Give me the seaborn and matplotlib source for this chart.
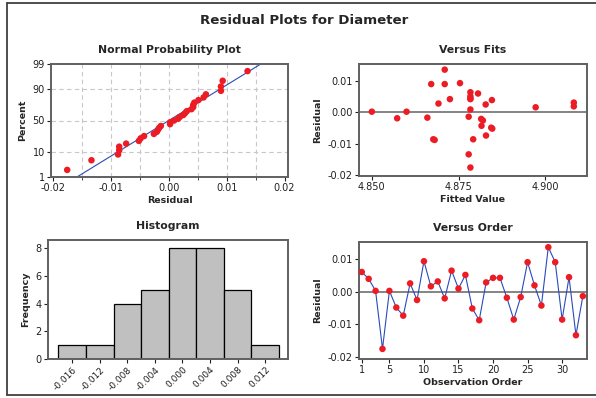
import matplotlib
matplotlib.use("Agg")
import matplotlib.pyplot as plt
import seaborn as sns
import numpy as np
from statistics import NormalDist
from matplotlib.lines import Line2D

# ── data ──
order = list(range(1, 34))
residuals = [0.0060, 0.0039, 0.0002, -0.0176, 0.0002, -0.0049, -0.0074, 0.0025,
             -0.0026, 0.0093, 0.0016, 0.0031, -0.0021, 0.0064, 0.0009, 0.0051,
             -0.0052, -0.0088, 0.0028, 0.0042, 0.0042, -0.0019, -0.0086, -0.0017,
             0.0090, 0.0019, -0.0043, 0.0136, 0.0090, -0.0086, 0.0044, -0.0134,
             -0.0014]
fitted = [4.8806, 4.8846, 4.8500, 4.8784, 4.8600, 4.8844, 4.8829, 4.8828,
          4.8820, 4.8754, 4.8972, 4.9082, 4.8815, 4.8784, 4.8784, 4.8784,
          4.8847, 4.8681, 4.8692, 4.8784, 4.8725, 4.8573, 4.8677, 4.8660,
          4.8671, 4.9082, 4.8816, 4.8710, 4.8710, 4.8792, 4.8784, 4.8779,
          4.8779]
hist_edges = [-0.018, -0.014, -0.010, -0.006, -0.002, 0.002, 0.006, 0.010, 0.014]
hist_ticks = [-0.016, -0.012, -0.008, -0.004, 0.000, 0.004, 0.008, 0.012]
pct_ticks = [1, 10, 50, 90, 99]

RED = "#ec1c24"
BLUE = "#2a4bb8"
SPINE = "#606060"

sns.set_style("ticks")
plt.rcParams["font.family"] = ["DejaVu Sans"]
plt.rcParams["xtick.labelsize"] = 7
plt.rcParams["ytick.labelsize"] = 7
plt.rcParams["xtick.major.size"] = 3
plt.rcParams["ytick.major.size"] = 3

W, H = 596, 398
fig = plt.figure(figsize=(W / 100, H / 100), dpi=100)


def box(l, t, r, b):
    return [l / W, 1 - b / H, (r - l) / W, (b - t) / H]


ax1 = fig.add_axes(box(51, 64, 288, 177))
ax2 = fig.add_axes(box(359, 64, 587, 176))
ax3 = fig.add_axes(box(48, 240, 288, 359))
ax4 = fig.add_axes(box(359, 242, 587, 359))

for ax in (ax1, ax2, ax3, ax4):
    for s in ax.spines.values():
        s.set_color(SPINE)
        s.set_linewidth(1.4)
    ax.tick_params(colors="#202020", width=0.8, pad=1.5)

lab = dict(fontsize=6.8, fontweight="bold")
ttl = dict(fontsize=7.8, fontweight="bold", pad=8)

# ── normal probability plot ──
nd = NormalDist()
res_sorted = np.sort(residuals)
n = len(res_sorted)
z = [nd.inv_cdf((i - 0.3) / (n + 0.4)) for i in range(1, n + 1)]
mu, sd = np.mean(residuals), np.std(residuals, ddof=1)
zl = np.array([-3.5, 3.5])
ax1.plot(mu + sd * zl, zl, color=BLUE, lw=0.8, zorder=2)
sns.scatterplot(x=res_sorted, y=z, color=RED, s=22, edgecolor="none", ax=ax1, zorder=3)
ax1.set_xlim(-0.0204, 0.0206)
ax1.set_ylim(nd.inv_cdf(0.01), nd.inv_cdf(0.99))
ax1.set_xticks([-0.02, -0.01, 0.0, 0.01, 0.02])
ax1.set_xticklabels(["-0.02", "-0.01", "0.00", "0.01", "0.02"])
ax1.set_xticks([-0.015, -0.005, 0.005, 0.015], minor=True)
ax1.tick_params(axis="x", which="minor", length=2)
ax1.set_yticks([nd.inv_cdf(p / 100) for p in pct_ticks])
ax1.set_yticklabels([str(p) for p in pct_ticks])
for xv in np.arange(-0.015, 0.0151, 0.005):
    ax1.axvline(xv, color="#c8c8c8", lw=0.8, ls=(0, (4, 3)), zorder=0)
for p in (10, 50, 90):
    ax1.axhline(nd.inv_cdf(p / 100), color="#c8c8c8", lw=0.8, ls=(0, (4, 3)), zorder=0)
ax1.set_xlabel("Residual", labelpad=2, **lab)
ax1.set_ylabel("Percent", labelpad=4, **lab)
ax1.set_title("Normal Probability Plot", **ttl)

# ── versus fits ──
ax2.axhline(0, color="#707070", lw=1.2, zorder=1)
sns.scatterplot(x=fitted, y=residuals, color=RED, s=22, edgecolor="none", ax=ax2, zorder=3)
ax2.set_xlim(4.8463, 4.9120)
ax2.set_ylim(-0.0203, 0.0154)
ax2.set_xticks([4.850, 4.875, 4.900])
ax2.set_xticklabels(["4.850", "4.875", "4.900"])
ax2.set_yticks([-0.02, -0.01, 0.0, 0.01])
ax2.set_yticklabels(["-0.02", "-0.01", "0.00", "0.01"])
ax2.set_xlabel("Fitted Value", labelpad=2, **lab)
ax2.set_ylabel("Residual", labelpad=4, **lab)
ax2.set_title("Versus Fits", **ttl)

# ── histogram ──
sns.histplot(x=residuals, bins=hist_edges, color="#c0c0c0", edgecolor="black",
             linewidth=0.9, alpha=1, ax=ax3)
ax3.set_xlim(-0.0195, 0.0153)
ax3.set_ylim(0, 8.6)
ax3.set_yticks([0, 2, 4, 6, 8])
ax3.set_xticks(hist_ticks)
ax3.set_xticklabels([f"{t:.3f}" for t in hist_ticks], rotation=45, ha="right",
                    rotation_mode="anchor", fontsize=6.5)
ax3.set_xlabel("")
ax3.set_ylabel("Frequency", labelpad=4, **lab)
ax3.set_title("Histogram", **ttl)

# ── versus order ──
ax4.axhline(0, color="#707070", lw=1.2, zorder=1)
sns.lineplot(x=order, y=residuals, color=BLUE, lw=0.8, ax=ax4, zorder=2)
sns.scatterplot(x=order, y=residuals, color=RED, s=22, edgecolor="none", ax=ax4, zorder=3)
ax4.set_xlim(0.6, 33.6)
ax4.set_ylim(-0.0207, 0.0152)
ax4.set_xticks([1, 5, 10, 15, 20, 25, 30])
ax4.set_yticks([-0.02, -0.01, 0.0, 0.01])
ax4.set_yticklabels(["-0.02", "-0.01", "0.00", "0.01"])
ax4.set_xlabel("Observation Order", labelpad=2, **lab)
ax4.set_ylabel("Residual", labelpad=4, **lab)
ax4.set_title("Versus Order", **ttl)

fig.text(304 / W, 1 - 20 / H, "Residual Plots for Diameter", ha="center", va="center",
         fontsize=9.6, fontweight="bold")

# outer frame
for xs, ys in [((7 / W, 7 / W), (1 - 3 / H, 1 - 395 / H)),
               ((7 / W, 1.0), (1 - 3 / H, 1 - 3 / H)),
               ((7 / W, 1.0), (1 - 395 / H, 1 - 395 / H))]:
    fig.add_artist(Line2D(xs, ys, color="#404040", lw=1.3))

fig.savefig("out.png", dpi=100)
